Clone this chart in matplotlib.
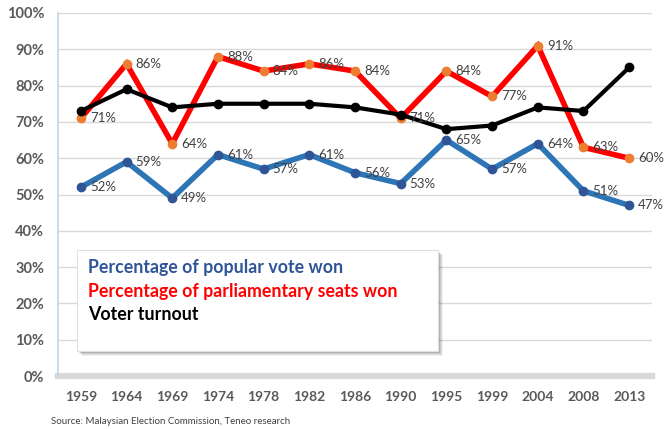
import matplotlib
matplotlib.use("Agg")
import matplotlib.pyplot as plt
from matplotlib.patches import Rectangle
import numpy as np

years = ["1959", "1964", "1969", "1974", "1978", "1982", "1986", "1990", "1995", "1999", "2004", "2008", "2013"]
popular_vote = [52, 59, 49, 61, 57, 61, 56, 53, 65, 57, 64, 51, 47]
seats_won = [71, 86, 64, 88, 84, 86, 84, 71, 84, 77, 91, 63, 60]
turnout = [73, 79, 74, 75, 75, 75, 74, 72, 68, 69, 74, 73, 85]
series_names = ["Percentage of popular vote won", "Percentage of parliamentary seats won", "Voter turnout"]
source = "Source: Malaysian Election Commission, Teneo research"

plt.rcParams['font.family'] = ['Lato', 'DejaVu Sans']

fig = plt.figure(figsize=(6.65, 4.29), dpi=100)
ax = fig.add_axes([58/665, 1-376/429, 594/665, 363/429])

x = np.arange(len(years))
ax.set_xlim(-0.5, len(years)-0.5)
ax.set_ylim(0, 100)

# grid
for v in range(10, 101, 10):
    ax.axhline(v, color="#D9D9D9", lw=1, zorder=0)

ax.plot(x, popular_vote, color="#2E75B6", lw=4, marker="o", ms=6, mfc="#2F5597", mec="#2F5597", zorder=3, solid_joinstyle="miter")
ax.plot(x, seats_won, color="#FF0000", lw=4, marker="o", ms=6, mfc="#ED7D31", mec="#ED7D31", zorder=3, solid_joinstyle="miter")
ax.plot(x, turnout, color="#000000", lw=3, marker="o", ms=6, mfc="#000000", mec="#000000", zorder=4)

lab_color = "#404040"
for xi, v in zip(x, popular_vote):
    ax.annotate(f"{v}%", (xi, v), xytext=(6.5, 0), textcoords="offset points", va="center", ha="left",
                fontsize=9.5, color=lab_color, zorder=5)
for xi, v in zip(x, seats_won):
    ax.annotate(f"{v}%", (xi, v), xytext=(6.5, 0), textcoords="offset points", va="center", ha="left",
                fontsize=9.5, color=lab_color, zorder=5)

# axes styling
for s in ["top", "right", "bottom"]:
    ax.spines[s].set_visible(False)
ax.spines["left"].set_color("#BDD7EE")
ax.spines["left"].set_linewidth(1.2)
ax.axhline(0, color="#D9D9D9", lw=4.5, zorder=2, clip_on=False)

ax.set_yticks(range(0, 101, 10))
ax.set_yticklabels([f"{v}%" for v in range(0, 101, 10)], fontsize=10.5, fontweight="bold", color="#595959")
ax.tick_params(axis="y", length=0, pad=10)

ax.set_xticks(x)
ax.set_xticklabels(years, fontsize=10, fontweight="bold", color="#595959")
ax.set_xticks(np.arange(-0.5, len(years), 1), minor=True)
ax.tick_params(axis="x", which="major", length=0, pad=11)
ax.tick_params(axis="x", which="minor", length=5, width=4.5, color="#D9D9D9", direction="inout")

# legend box with shadow
bx0, by0, bw, bh = 77/665, 1-351/429, 361/665, 101/429
for i, a in enumerate([0.10, 0.12, 0.15, 0.2]):
    off = (4 - i)
    fig.patches.append(Rectangle((bx0 + (off+1)/665, by0 - (off+1)/429), bw, bh, transform=fig.transFigure,
                                 facecolor="#000000", alpha=a*0.6, edgecolor="none", zorder=5))
fig.patches.append(Rectangle((bx0, by0), bw, bh, transform=fig.transFigure,
                             facecolor="white", edgecolor="#E0E0E0", lw=0.8, zorder=6))
leg_colors = ["#2F5597", "#FF0000", "#000000"]
leg_y = [268, 291, 314]
for name, c, yy in zip(series_names, leg_colors, leg_y):
    fig.text(88/665, 1-yy/429, name, color=c, fontsize=12.8, fontweight="bold", va="center", ha="left", zorder=7)

fig.text(51/665, 1-421/429, source, fontsize=7, color="#404040", va="center", ha="left")

fig.savefig("out.png", dpi=100)
